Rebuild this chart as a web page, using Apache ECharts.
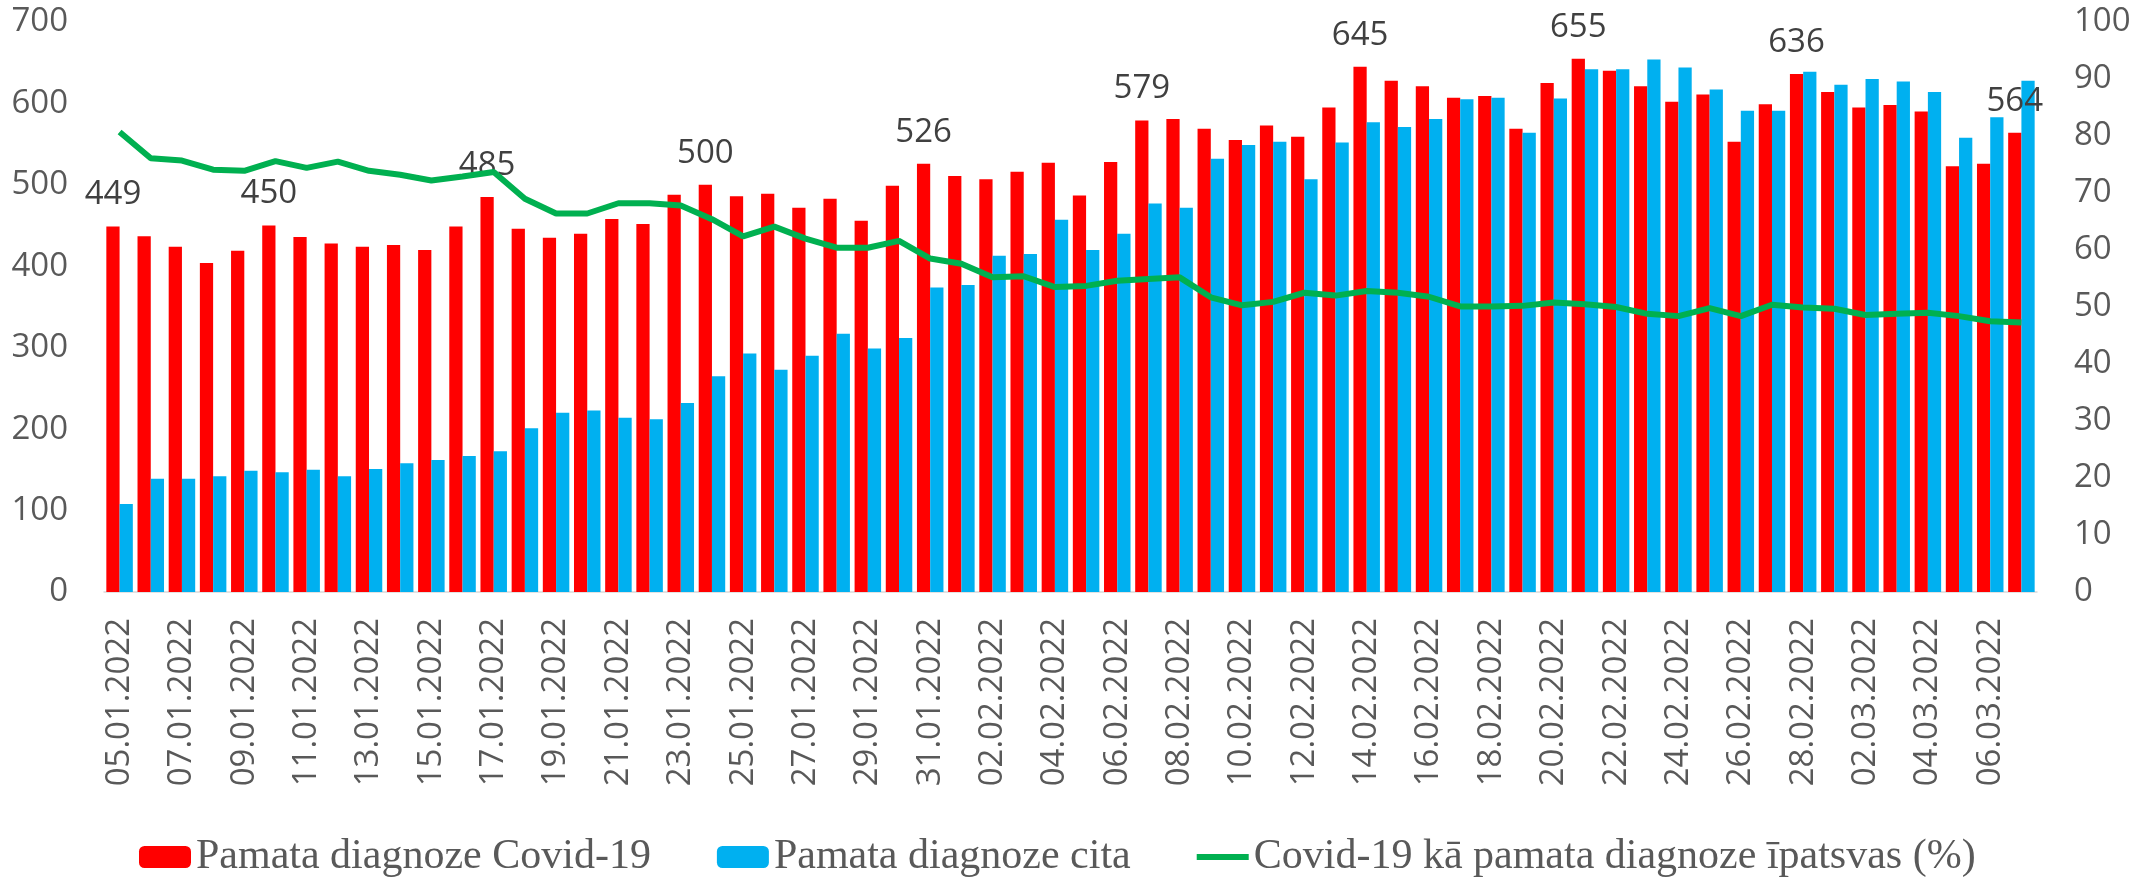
<!DOCTYPE html>
<html>
<head>
<meta charset="utf-8">
<script src="https://cdn.jsdelivr.net/npm/echarts@6/dist/echarts.min.js"></script>
<style>
  html, body { margin: 0; padding: 0; background: #fff; }
  #chart { width: 2153px; height: 881px; }
</style>
</head>
<body>
<div id="chart"></div>
<script>
// datumi
const dates = [
  '05.01.2022', '06.01.2022', '07.01.2022', '08.01.2022', '09.01.2022', '10.01.2022', '11.01.2022',
  '12.01.2022', '13.01.2022', '14.01.2022', '15.01.2022', '16.01.2022', '17.01.2022', '18.01.2022',
  '19.01.2022', '20.01.2022', '21.01.2022', '22.01.2022', '23.01.2022', '24.01.2022', '25.01.2022',
  '26.01.2022', '27.01.2022', '28.01.2022', '29.01.2022', '30.01.2022', '31.01.2022', '01.02.2022',
  '02.02.2022', '03.02.2022', '04.02.2022', '05.02.2022', '06.02.2022', '07.02.2022', '08.02.2022',
  '09.02.2022', '10.02.2022', '11.02.2022', '12.02.2022', '13.02.2022', '14.02.2022', '15.02.2022',
  '16.02.2022', '17.02.2022', '18.02.2022', '19.02.2022', '20.02.2022', '21.02.2022', '22.02.2022',
  '23.02.2022', '24.02.2022', '25.02.2022', '26.02.2022', '27.02.2022', '28.02.2022', '01.03.2022',
  '02.03.2022', '03.03.2022', '04.03.2022', '05.03.2022', '06.03.2022', '07.03.2022'
]
// Pamata diagnoze Covid-19
const covid = [
  449, 437, 424, 404, 419, 450, 436, 428, 424, 426, 420, 449, 485, 446, 435,
  440, 458, 452, 488, 500, 486, 489, 472, 483, 456, 499, 526, 511, 507, 516, 527,
  487, 528, 579, 581, 569, 555, 573, 559, 595, 645, 628, 621, 607, 609, 569, 625, 655,
  640, 621, 602, 611, 553, 599, 636, 614, 595, 598, 590, 523, 526, 564
]
// Pamata diagnoze cita
const other = [
  108, 139, 139, 142, 149, 147, 150, 142, 151, 158, 162, 167, 173, 201, 220,
  223, 214, 212, 232, 265, 293, 273, 290, 317, 299, 312, 374, 377, 413, 415, 457,
  420, 440, 477, 472, 532, 549, 553, 507, 552, 577, 571, 581, 605, 607, 564, 606, 642,
  642, 654, 644, 617, 591, 591, 639, 623, 630, 627, 614, 558, 583, 628
]
// īpatsvars (%)
const share = [
  80.7, 76.1, 75.7, 74.1, 73.9, 75.6, 74.4, 75.5, 73.9, 73.2, 72.2, 72.9, 73.7, 69.0, 66.4,
  66.4, 68.2, 68.2, 67.8, 65.4, 62.4, 64.1, 62.0, 60.4, 60.4, 61.6, 58.5, 57.6, 55.2, 55.4, 53.5,
  53.7, 54.6, 54.9, 55.2, 51.7, 50.3, 50.9, 52.5, 52.0, 52.8, 52.5, 51.8, 50.1, 50.1, 50.2, 50.8, 50.5,
  50.0, 48.8, 48.4, 49.8, 48.4, 50.4, 49.9, 49.7, 48.6, 48.8, 49.0, 48.4, 47.5, 47.3
]
// kuriem stabiņiem rāda vērtību
const labelIdx = [0, 5, 12, 19, 26, 33, 40, 47, 54, 61]

const names = ['Pamata diagnoze Covid-19', 'Pamata diagnoze cita', 'Covid-19 kā pamata diagnoze īpatsvas (%)']

const chart = echarts.init(document.getElementById('chart'))
const option = {
  animation: false,
  textStyle: { fontFamily: 'Open Sans' },
  grid: {
    left: 104,
    right: 116,
    top: 22,
    bottom: 289
  },
  legend: {
    data: [
      names[0],
      names[1],
      // tikai līnija, bez apļa
      { name: names[2], icon: 'path://M0,0 L52,0 L52,6 L0,6 Z' }
    ],
    left: 139,
    top: 836,
    padding: 0,
    itemWidth: 52,
    itemHeight: 22,
    itemGap: 66,
    symbolKeepAspect: true,
    textStyle: {
      fontFamily: 'Liberation Serif',
      fontSize: 42,
      color: '#595959'
    }
  },
  xAxis: {
    type: 'category',
    data: dates,
    axisLine: { lineStyle: { color: '#D9D9D9', width: 1.5 } },
    axisTick: { interval: 1, length: 12, lineStyle: { color: '#D9D9D9', width: 1.5 } },
    axisLabel: {
      interval: 1,
      rotate: 90,
      margin: 26,
      color: '#595959',
      fontSize: 33
    }
  },
  yAxis: [
    {
      type: 'value',
      min: 0,
      max: 700,
      interval: 100,
      splitLine: { show: false },
      axisLine: { show: false },
      axisTick: { show: false },
      axisLabel: { color: '#595959', fontSize: 33, margin: 36 }
    },
    {
      type: 'value',
      min: 0,
      max: 100,
      interval: 10,
      splitLine: { show: false },
      axisLine: { show: false },
      axisTick: { show: false },
      axisLabel: { color: '#595959', fontSize: 33, margin: 37 }
    }
  ],
  series: [
    {
      name: names[0],
      type: 'bar',
      data: covid.map((v, i) => ({
        value: v,
        label: { show: labelIdx.includes(i) }
      })),
      barGap: '0%',
      barCategoryGap: '15%',
      itemStyle: { color: '#FF0000' },
      label: {
        position: 'top',
        distance: 15,
        color: '#404040',
        fontSize: 33
      }
    },
    {
      name: names[1],
      type: 'bar',
      data: other,
      barGap: '0%',
      barCategoryGap: '15%',
      itemStyle: { color: '#00B0F0' }
    },
    {
      name: names[2],
      type: 'line',
      yAxisIndex: 1,
      data: share,
      symbol: 'none',
      lineStyle: { color: '#00B050', width: 6 },
      itemStyle: { color: '#00B050' }
    }
  ]
}
chart.setOption(option)
</script>
</body>
</html>
